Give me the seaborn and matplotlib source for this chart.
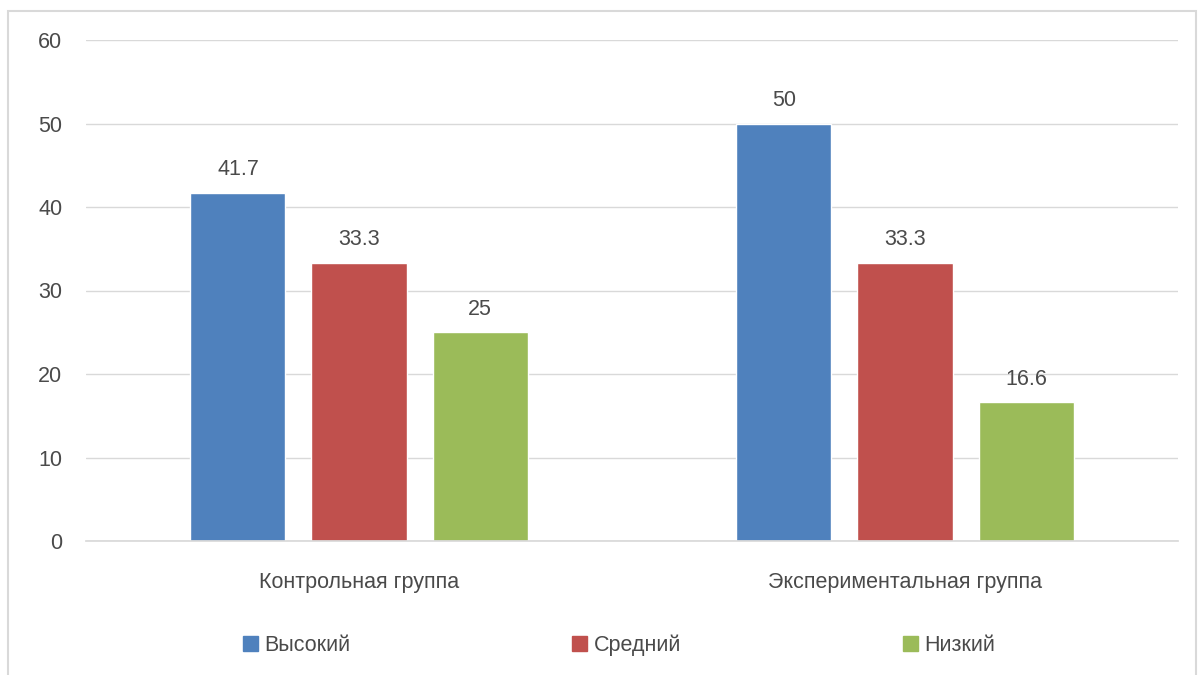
import matplotlib
matplotlib.use("Agg")
import matplotlib.pyplot as plt
import seaborn as sns
import pandas as pd
from matplotlib.patches import Rectangle, Patch

groups = ["Контрольная группа", "Экспериментальная группа"]
levels = ["Высокий", "Средний", "Низкий"]
values_high = [41.7, 50]
values_mid = [33.3, 33.3]
values_low = [25, 16.6]
value_labels_high = ["41.7", "50"]
value_labels_mid = ["33.3", "33.3"]
value_labels_low = ["25", "16.6"]
yticks = [0, 10, 20, 30, 40, 50, 60]

colors = ["#4F81BD", "#C0504D", "#9BBB59"]

rows = []
for lvl, vals in zip(levels, [values_high, values_mid, values_low]):
    for g, v in zip(groups, vals):
        rows.append({"group": g, "level": lvl, "value": v})
df = pd.DataFrame(rows)

sns.set_theme(style="white")
plt.rcParams['font.family'] = ['Liberation Sans', 'DejaVu Sans']

FS = 15.5
TXT = "#4a4a4a"

fig = plt.figure(figsize=(11.98, 6.75), dpi=100)
ax = fig.add_axes([86/1198, 1-541/675, (1178-86)/1198, (541-40)/675])

sns.barplot(data=df, x="group", y="value", hue="level", order=groups,
            hue_order=levels, palette=colors, width=0.665, gap=0.215,
            ax=ax, legend=False, saturation=1)

ax.set_ylim(0, 60)
ax.set_yticks(yticks)
ax.set_xlim(-0.5, 1.5)
ax.yaxis.grid(True, color="#D9D9D9", linewidth=1)
ax.set_axisbelow(True)
for s in ["top", "right", "left"]:
    ax.spines[s].set_visible(False)
ax.spines["bottom"].set_color("#D9D9D9")
ax.set_xlabel("")
ax.set_ylabel("")
ax.tick_params(axis="y", length=0, pad=17, labelsize=FS, labelcolor=TXT)
ax.tick_params(axis="x", length=0, pad=22, labelsize=FS, labelcolor=TXT)

labels_all = [value_labels_high, value_labels_mid, value_labels_low]
for cont, labs in zip(ax.containers, labels_all):
    ax.bar_label(cont, labels=labs, padding=9, fontsize=FS, color=TXT)

handles = [Patch(facecolor=c, edgecolor=c) for c in colors]
fig.legend(handles, levels, loc="center", bbox_to_anchor=(619/1198, 1-645/675),
           ncol=3, frameon=False, fontsize=FS, columnspacing=10.3,
           handlelength=0.7, handleheight=0.7, handletextpad=0.3,
           labelcolor=TXT)

fig.patches.append(Rectangle((8/1198, -0.01), (1196-8)/1198, 1-11/675 + 0.01,
                             transform=fig.transFigure, fill=False,
                             edgecolor="#D9D9D9", linewidth=1.5))

fig.savefig("out.png", dpi=100, facecolor="white")
